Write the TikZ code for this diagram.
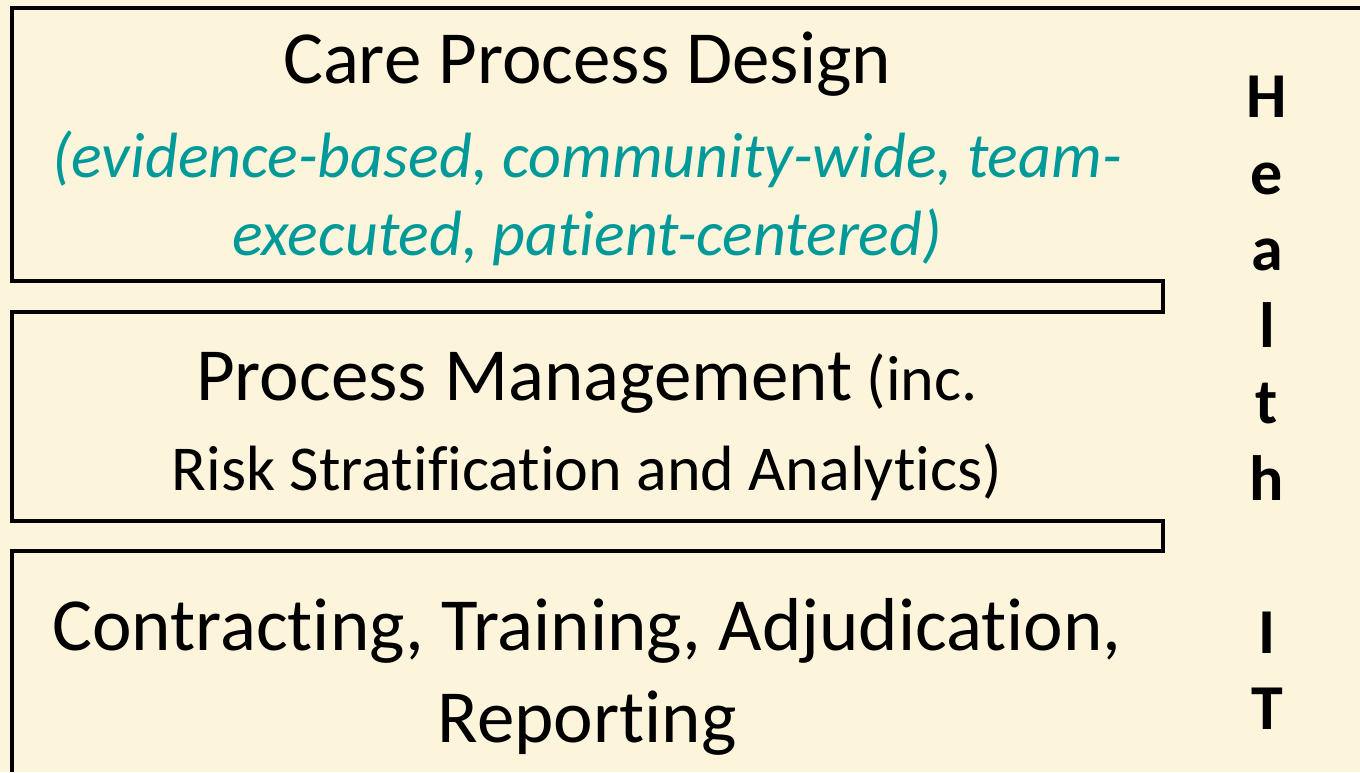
\documentclass[tikz,border=0pt]{standalone}
\usepackage{fontspec}
\setmainfont{Carlito}[Ligatures=NoCommon]
\definecolor{cream}{HTML}{FDF5DB}
\definecolor{tealtext}{HTML}{009999}
\tikzset{
  layerline/.style={line width=1.8pt, line join=miter},
  layertext/.style={anchor=base, inner sep=0pt, align=center},
}
\begin{document}
\begin{tikzpicture}[x=0.5pt, y=-0.5pt]
            \fill[cream] (0,0) rectangle (1360,772);
            \useasboundingbox (0,0) rectangle (1360,772);
            \draw[layerline] (1360,8) -- (12,8) -- (12,281) -- (1163,281) -- (1163,312) -- (12,312) -- (12,521) -- (1163,521) -- (1163,551) -- (12,551) -- (12,772);
            \node[layertext, font=\fontsize{37.5}{46}\selectfont] (design) at (587,83) {Care Process Design};
            \node[layertext, text=tealtext, font=\fontsize{32}{39}\selectfont\itshape] (designnote) at (587,255) {(evidence-based, community-wide, team-\\executed, patient-centered)};
            \node[layertext, font=\fontsize{32}{45}\selectfont] (manage) at (587,490) {{\fontsize{37.5}{45}\selectfont Process Management} (inc.\\Risk Stratification and Analytics)};
            \node[layertext, font=\fontsize{37.5}{46}\selectfont] (contract) at (587,742) {Contracting, Training, Adjudication,\\Reporting};
            \node[anchor=north, inner sep=0pt, align=center, font=\fontsize{32}{38.25}\selectfont\bfseries] (healthit) at (1267,76) {H\\e\\a\\l\\t\\h\\\mbox{}\\I\\T};
\end{tikzpicture}
\end{document}
